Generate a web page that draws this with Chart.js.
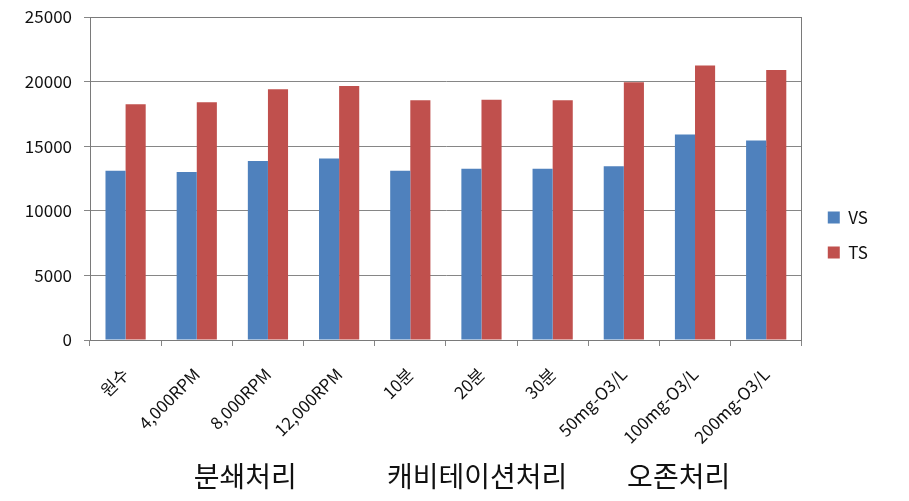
<!DOCTYPE html>
<html>
<head>
<meta charset="utf-8">
<script src="https://cdn.jsdelivr.net/npm/chart.js@4.4.1/dist/chart.umd.min.js"></script>
<style>
  html, body { margin: 0; padding: 0; background: #fff; }
  canvas { display: block; }
</style>
</head>
<body>
<canvas id="chart" width="909" height="501"></canvas>
<script>
const categories = ["원수", "4,000RPM", "8,000RPM", "12,000RPM", "10분", "20분", "30분", "50mg-O3/L", "100mg-O3/L", "200mg-O3/L"];
const vsValues = [13100, 13000, 13850, 14050, 13100, 13250, 13250, 13450, 15900, 15450];
const tsValues = [18250, 18400, 19400, 19650, 18550, 18600, 18550, 19950, 21250, 20900];
const yTicks = [0, 5000, 10000, 15000, 20000, 25000];
const groupLabels = ["분쇄처리", "캐비테이션처리", "오존처리"];
const groupCenters = [1.68, 4.94, 7.77]; // position in category units

const FONT = '"Noto Sans CJK KR", "Noto Sans", sans-serif';
const GRID = "#868686";

// plot area frame (top and right edges)
const frame = {
  id: "frame",
  afterDraw(chart) {
    const { ctx, chartArea: a } = chart;
    ctx.save();
    ctx.strokeStyle = "#7a7a7a";
    ctx.lineWidth = 1;
    ctx.strokeRect(Math.round(a.left) + 0.5, Math.round(a.top) + 0.5,
      Math.round(a.right - a.left) - 1, Math.round(a.bottom - a.top));
    ctx.restore();
  },
};

// group captions under the rotated labels
const groups = {
  id: "groups",
  afterDraw(chart) {
    const { ctx, chartArea: a } = chart;
    const x = chart.scales.x;
    ctx.save();
    ctx.font = "28px " + FONT;
    ctx.fillStyle = "#111";
    ctx.textAlign = "center";
    ctx.textBaseline = "middle";
    groupLabels.forEach((g, i) => {
      ctx.fillText(g, x.getPixelForValue(groupCenters[i]), a.bottom + 136);
    });
    ctx.restore();
  },
};

// move legend next to the plot like the original
const legendShift = {
  id: "legendShift",
  afterLayout(chart) {
    const lg = chart.legend;
    lg.left += 8; lg.right += 8;
    lg.top -= 24; lg.bottom -= 24;
  },
};

new Chart(document.getElementById("chart"), {
  type: "bar",
  data: {
    labels: categories,
    datasets: [
      { label: "VS", data: vsValues, backgroundColor: "#4F81BD" },
      { label: "TS", data: tsValues, backgroundColor: "#C0504D" },
    ],
  },
  options: {
    responsive: false,
    animation: false,
    layout: { padding: { top: 17, right: 39, bottom: 0, left: 0 } },
    datasets: { bar: { categoryPercentage: 0.565, barPercentage: 1 } },
    plugins: {
      tooltip: { enabled: false },
      legend: {
        position: "right",
        labels: {
          font: { family: FONT, size: 17 },
          color: "#111",
          boxWidth: 12,
          boxHeight: 12,
          padding: 18,
        },
      },
    },
    scales: {
      x: {
        afterFit(s) { s.height = 161; },
        grid: { drawOnChartArea: false, color: GRID, tickLength: 6, offset: true },
        border: { color: GRID },
        ticks: {
          autoSkip: false,
          maxRotation: 45,
          minRotation: 45,
          padding: 18,
          color: "#111",
          font: { family: FONT, size: 17 },
        },
      },
      y: {
        min: 0,
        max: 25000,
        afterFit(s) { s.width = 90; s.paddingTop = 0; s.paddingBottom = 0; },
        afterBuildTicks(s) { s.ticks = yTicks.map(v => ({ value: v })); },
        grid: { color: GRID, tickLength: 6 },
        border: { color: GRID },
        ticks: {
          padding: 12,
          color: "#111",
          font: { family: FONT, size: 17 },
          callback: v => String(v),
        },
      },
    },
  },
  plugins: [frame, groups, legendShift],
});
</script>
</body>
</html>
